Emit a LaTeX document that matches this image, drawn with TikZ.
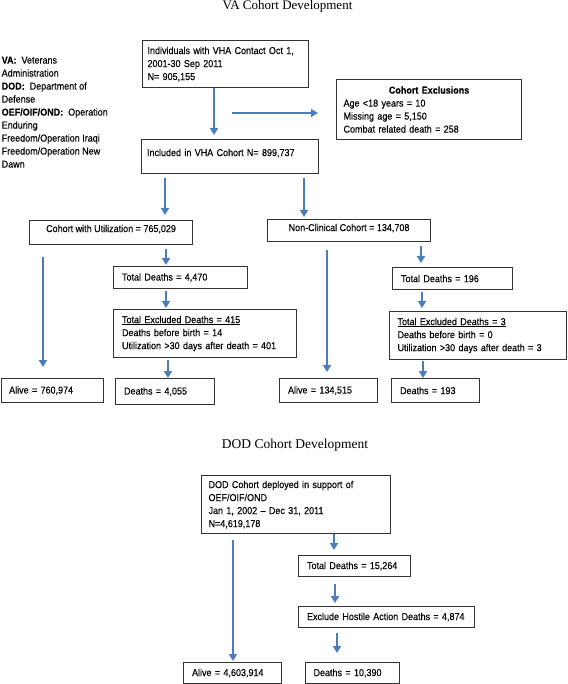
\documentclass[tikz,border=0pt]{standalone}
\usepackage{fontspec}
\setmainfont{Liberation Sans}[FakeStretch=0.9, FakeBold=0.25]
\newfontfamily\ttlfont{Liberation Serif}
\usetikzlibrary{arrows.meta}
\definecolor{arrblue}{RGB}{74,126,187}
\begin{document}
\begin{tikzpicture}[x=1pt,y=-1pt,
  box/.style={draw=black!80, line width=1.1pt, anchor=north west, inner xsep=8.5pt, inner ysep=0pt, align=left, font=\fontsize{10}{13}\selectfont},
  cbox/.style={draw=black!80, line width=1.1pt, anchor=north west, inner sep=0pt, align=center, font=\fontsize{10}{13}\selectfont},
  arr/.style={draw=arrblue, line width=2.2pt, -{Triangle[length=7pt,width=8pt]}},
  ttl/.style={font=\ttlfont\fontsize{13}{15}\selectfont, anchor=base},
  legendtxt/.style={anchor=north west, inner sep=0pt, align=left, font=\fontsize{10}{13}\selectfont}]
\useasboundingbox (0,0) rectangle (567,684);

% titles and legend
\node[ttl] (t1) at (287.5,10) {VA Cohort Development};
\node[ttl, font=\ttlfont\fontsize{13.5}{15}\selectfont] (t2) at (295,448) {DOD Cohort Development};
\node[legendtxt] (leg) at (1.5,56.5) {\textbf{VA:}\ \ Veterans\\Administration\\\textbf{DOD:}\ \ Department of\\Defense\\\textbf{OEF/OIF/OND:}\ \ Operation\\Enduring\\Freedom/Operation Iraqi\\Freedom/Operation New\\Dawn};

% VA boxes
\node[box, inner xsep=5.5pt, text width=155.5pt, minimum height=47pt] (b1) at (141.5,40) {Individuals with VHA Contact Oct 1,\\2001-30 Sep 2011\\N= 905,155};
\node[box, inner xsep=7pt, text width=171pt, minimum height=60pt] (excl) at (336,79) {\makebox[171pt]{\textbf{Cohort Exclusions}}\\Age <18 years = 10\\Missing age = 5,150\\Combat related death = 258};
\node[box, inner xsep=5.5pt, text width=166pt, minimum height=34pt, text depth=8.2pt] (b2) at (141,139) {Included in VHA Cohort N= 899,737};
\node[cbox, minimum width=163pt, minimum height=24pt, text depth=8.2pt] (b3) at (29,220) {Cohort with Utilization = 765,029};
\node[cbox, minimum width=163pt, minimum height=22pt, text depth=6.2pt] (b4) at (267,219) {Non-Clinical Cohort = 134,708};
\node[box, text width=117pt, minimum height=22pt] (td1) at (113,266) {Total Deaths = 4,470};
\node[box, text width=166pt, minimum height=48pt] (ex1) at (113,309) {\underline{Total Excluded Deaths = 415}\\Deaths before birth = 14\\Utilization >30 days after death = 401};
\node[box, inner xsep=8pt, text width=86.5pt, minimum height=24pt] (al1) at (0.6,378) {Alive = 760,974};
\node[box, text width=82pt, minimum height=26pt] (de1) at (115,378) {Deaths = 4,055};
\node[box, text width=81pt, minimum height=24pt] (al2) at (279,378) {Alive = 134,515};
\node[box, text width=103pt, minimum height=22pt] (td2) at (392,267) {Total Deaths = 196};
\node[box, inner xsep=8pt, text width=160.5pt, minimum height=48pt] (ex2) at (389,311) {\underline{Total Excluded Deaths = 3}\\Deaths before birth = 0\\Utilization >30 days after death = 3};
\node[box, text width=71pt, minimum height=24pt] (de2) at (391,378) {Deaths = 193};

% DOD boxes
\node[box, inner xsep=7pt, text width=175pt, minimum height=58pt] (dod) at (201,475) {DOD Cohort deployed in support of\\OEF/OIF/OND\\Jan 1, 2002 – Dec 31, 2011\\N=4,619,178};
\node[box, text width=95pt, minimum height=21pt] (td3) at (298,555) {Total Deaths = 15,264};
\node[box, text width=159pt, minimum height=21pt] (exh) at (298,606) {Exclude Hostile Action Deaths = 4,874};
\node[box, text width=81pt, minimum height=21pt] (al3) at (183,662) {Alive = 4,603,914};
\node[box, inner xsep=8pt, text width=78pt, minimum height=21pt] (de3) at (305,662) {Deaths = 10,390};

% arrow guide coordinates
\coordinate (h1) at (232,113);
\coordinate (v1) at (214,0);
\coordinate (v2) at (165,0);
\coordinate (v3) at (304,0);
\coordinate (v4) at (43,0);
\coordinate (v5) at (166,0);
\coordinate (v6) at (168,0);
\coordinate (v7) at (327,0);
\coordinate (v8) at (421,0);
\coordinate (v9) at (422,0);
\coordinate (v10) at (423,0);
\coordinate (v11) at (233,0);
\coordinate (v12) at (334,0);
\coordinate (v13) at (335,0);
\coordinate (v14) at (337,0);

% arrows
\draw[arr, shorten >=4pt] (b1.south -| v1) -- (b2.north -| v1);
\draw[arr, shorten >=18pt] (h1) -- (excl.west |- h1);
\draw[arr, shorten <=4pt, shorten >=5pt] (b2.south -| v2) -- (b3.north -| v2);
\draw[arr, shorten <=4pt, shorten >=2pt] (b2.south -| v3) -- (b4.north -| v3);
\draw[arr, shorten <=12pt, shorten >=11pt] (b3.south -| v4) -- (al1.north -| v4);
\draw[arr, shorten <=4pt, shorten >=1pt] (b3.south -| v5) -- (td1.north -| v5);
\draw[arr, shorten <=2pt, shorten >=1pt] (td1.south -| v5) -- (ex1.north -| v5);
\draw[arr, shorten <=2pt] (ex1.south -| v6) -- (de1.north -| v6);
\draw[arr, shorten <=8pt, shorten >=6pt] (b4.south -| v7) -- (al2.north -| v7);
\draw[arr, shorten <=4pt, shorten >=4pt] (b4.south -| v8) -- (td2.north -| v8);
\draw[arr, shorten <=2pt, shorten >=3pt] (td2.south -| v9) -- (ex2.north -| v9);
\draw[arr, shorten <=1pt] (ex2.south -| v10) -- (de2.north -| v10);
\draw[arr, shorten <=6pt, shorten >=1pt] (dod.south -| v11) -- (al3.north -| v11);
\draw[arr, shorten >=5pt] (dod.south -| v12) -- (td3.north -| v12);
\draw[arr, shorten <=7pt, shorten >=3pt] (td3.south -| v13) -- (exh.north -| v13);
\draw[arr, shorten <=5pt, shorten >=9pt] (exh.south -| v14) -- (de3.north -| v14);
\end{tikzpicture}
\end{document}
